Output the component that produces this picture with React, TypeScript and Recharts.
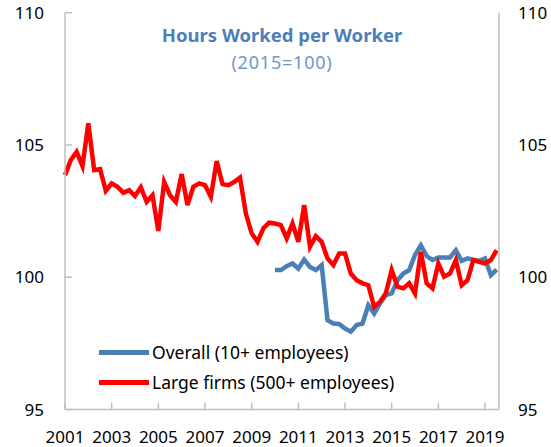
import React from "react";
import { LineChart, Line, XAxis, YAxis, Legend } from "recharts";

// quarterly, 2001Q1 .. 2019Q3
const periods: string[] = [];
for (let y = 2001; y <= 2019; y++) {
  for (let q = 1; q <= 4; q++) {
    if (y === 2019 && q > 3) break;
    periods.push(`${y}Q${q}`);
  }
}

// Large firms (500+ employees), 2015=100
const largeFirms = [
  103.86, 104.43, 104.74, 104.2, 105.82, 104.05, 104.09, 103.27,
  103.55, 103.42, 103.19, 103.29, 103.07, 103.4, 102.85, 103.1,
  101.75, 103.6, 103.1, 102.85, 103.9, 102.73, 103.42, 103.55,
  103.48, 103.04, 104.39, 103.52, 103.48, 103.6, 103.77, 102.41,
  101.66, 101.34, 101.85, 102.06, 102.03, 101.97, 101.47, 102.03,
  101.34, 102.73, 101.15, 101.55, 101.34, 100.71, 100.46, 100.9,
  100.9, 100.14, 99.89, 99.77, 99.7, 98.88, 99.07, 99.39,
  100.27, 99.64, 99.58, 99.77, 99.39, 100.96, 99.77, 99.58,
  100.52, 100.02, 100.14, 100.65, 99.7, 99.89, 100.65, 100.58,
  100.52, 100.65, 101.02,
];

// Overall (10+ employees), starts 2010Q1
const overallStart = "2010Q1";
const overall = [
  100.27, 100.27, 100.42, 100.52, 100.33, 100.67, 100.39, 100.27,
  100.46, 98.38, 98.25, 98.23, 98.06, 97.94, 98.19, 98.25,
  98.94, 98.63, 99.01, 99.32, 99.39, 99.89, 100.14, 100.27,
  100.84, 101.21, 100.8, 100.65, 100.75, 100.75, 100.75, 101.02,
  100.62, 100.71, 100.65, 100.62, 100.71, 100.08, 100.29,
];

const seriesNames = ["Overall (10+ employees)", "Large firms (500+ employees)"];
const yearTicks = [2001, 2003, 2005, 2007, 2009, 2011, 2013, 2015, 2017, 2019];
const valueTicks = [95, 100, 105, 110];

const startIdx = periods.indexOf(overallStart);
const data = periods.map((p, i) => ({
  period: p,
  t: Number(p.slice(0, 4)) + (Number(p.slice(5)) - 1) / 4,
  large: largeFirms[i],
  overall: i >= startIdx ? overall[i - startIdx] : null,
}));

const FONT = "'Noto Sans', 'Open Sans', sans-serif";
const GRID = "#BFBFBF";
const RED = "#FF0000";
const BLUE = "#4A80B5";
const tickStyle = { fontSize: 17, fill: "#000", fontFamily: FONT };

const LegendBox = ({ payload }: any) => {
  const items = [...(payload || [])].sort(
    (a: any, b: any) => seriesNames.indexOf(a.value) - seriesNames.indexOf(b.value)
  );
  return (
    <div style={{ fontFamily: FONT }}>
      {items.map((p: any) => (
        <div key={p.value} style={{ display: "flex", alignItems: "center", height: 30 }}>
          <span style={{ display: "inline-block", width: 50, height: 5, background: p.color, marginRight: 3 }} />
          <span style={{ fontSize: 17.5, color: "#000", lineHeight: "30px", whiteSpace: "nowrap" }}>{p.value}</span>
        </div>
      ))}
    </div>
  );
};

export default function App() {
  return (
    <div style={{ position: "absolute", left: 0, top: 0, width: 551, height: 447, background: "#fff" }}>
      <LineChart
        width={551}
        height={447}
        data={data}
        margin={{ top: 12.7, right: 0, bottom: 0, left: 0 }}
      >
        <XAxis
          dataKey="t"
          type="number"
          domain={[2001, 2019.6]}
          ticks={yearTicks}
          height={37.5}
          stroke={GRID}
          strokeWidth={1.5}
          tickSize={-7}
          tickMargin={28.5}
          tick={tickStyle}
          interval={0}
        />
        <XAxis
          xAxisId="top"
          dataKey="t"
          type="number"
          domain={[2001, 2019.6]}
          orientation="top"
          height={0}
          tick={false}
          tickLine={false}
          stroke={GRID}
          strokeWidth={1.5}
        />
        <YAxis
          yAxisId="left"
          domain={[95, 110]}
          ticks={valueTicks}
          width={65}
          stroke={GRID}
          strokeWidth={1.5}
          tickSize={-7}
          tickMargin={28}
          tick={tickStyle}
          interval={0}
        />
        <YAxis
          yAxisId="right"
          orientation="right"
          domain={[95, 110]}
          ticks={valueTicks}
          width={52}
          stroke={GRID}
          strokeWidth={1.5}
          tickLine={false}
          tickSize={0}
          tickMargin={19}
          tick={tickStyle}
          interval={0}
        />
        <Legend
          layout="vertical"
          align="center"
          verticalAlign="middle"
          content={<LegendBox />}
          wrapperStyle={{ left: 99, top: 337, width: 330 }}
        />
        <Line
          xAxisId="top"
          yAxisId="left"
          type="linear"
          dataKey="overall"
          name={seriesNames[0]}
          stroke={BLUE}
          strokeWidth={4.5}
          dot={false}
          isAnimationActive={false}
        />
        <Line
          yAxisId="right"
          type="linear"
          dataKey="large"
          name={seriesNames[1]}
          stroke={RED}
          strokeWidth={4.5}
          dot={false}
          isAnimationActive={false}
        />
      </LineChart>
      <div
        style={{
          position: "absolute",
          left: 65,
          width: 434,
          top: 23.6,
          textAlign: "center",
          fontFamily: FONT,
          color: "#4D7EB8",
          lineHeight: "22px",
        }}
      >
        <div style={{ fontSize: 18.5, fontWeight: 700, whiteSpace: "nowrap" }}>Hours Worked per Worker</div>
        <div style={{ fontSize: 18, color: "#6A98CC", marginTop: 5.4, letterSpacing: 0.8, whiteSpace: "nowrap" }}>
          (2015=100)
        </div>
      </div>
    </div>
  );
}
